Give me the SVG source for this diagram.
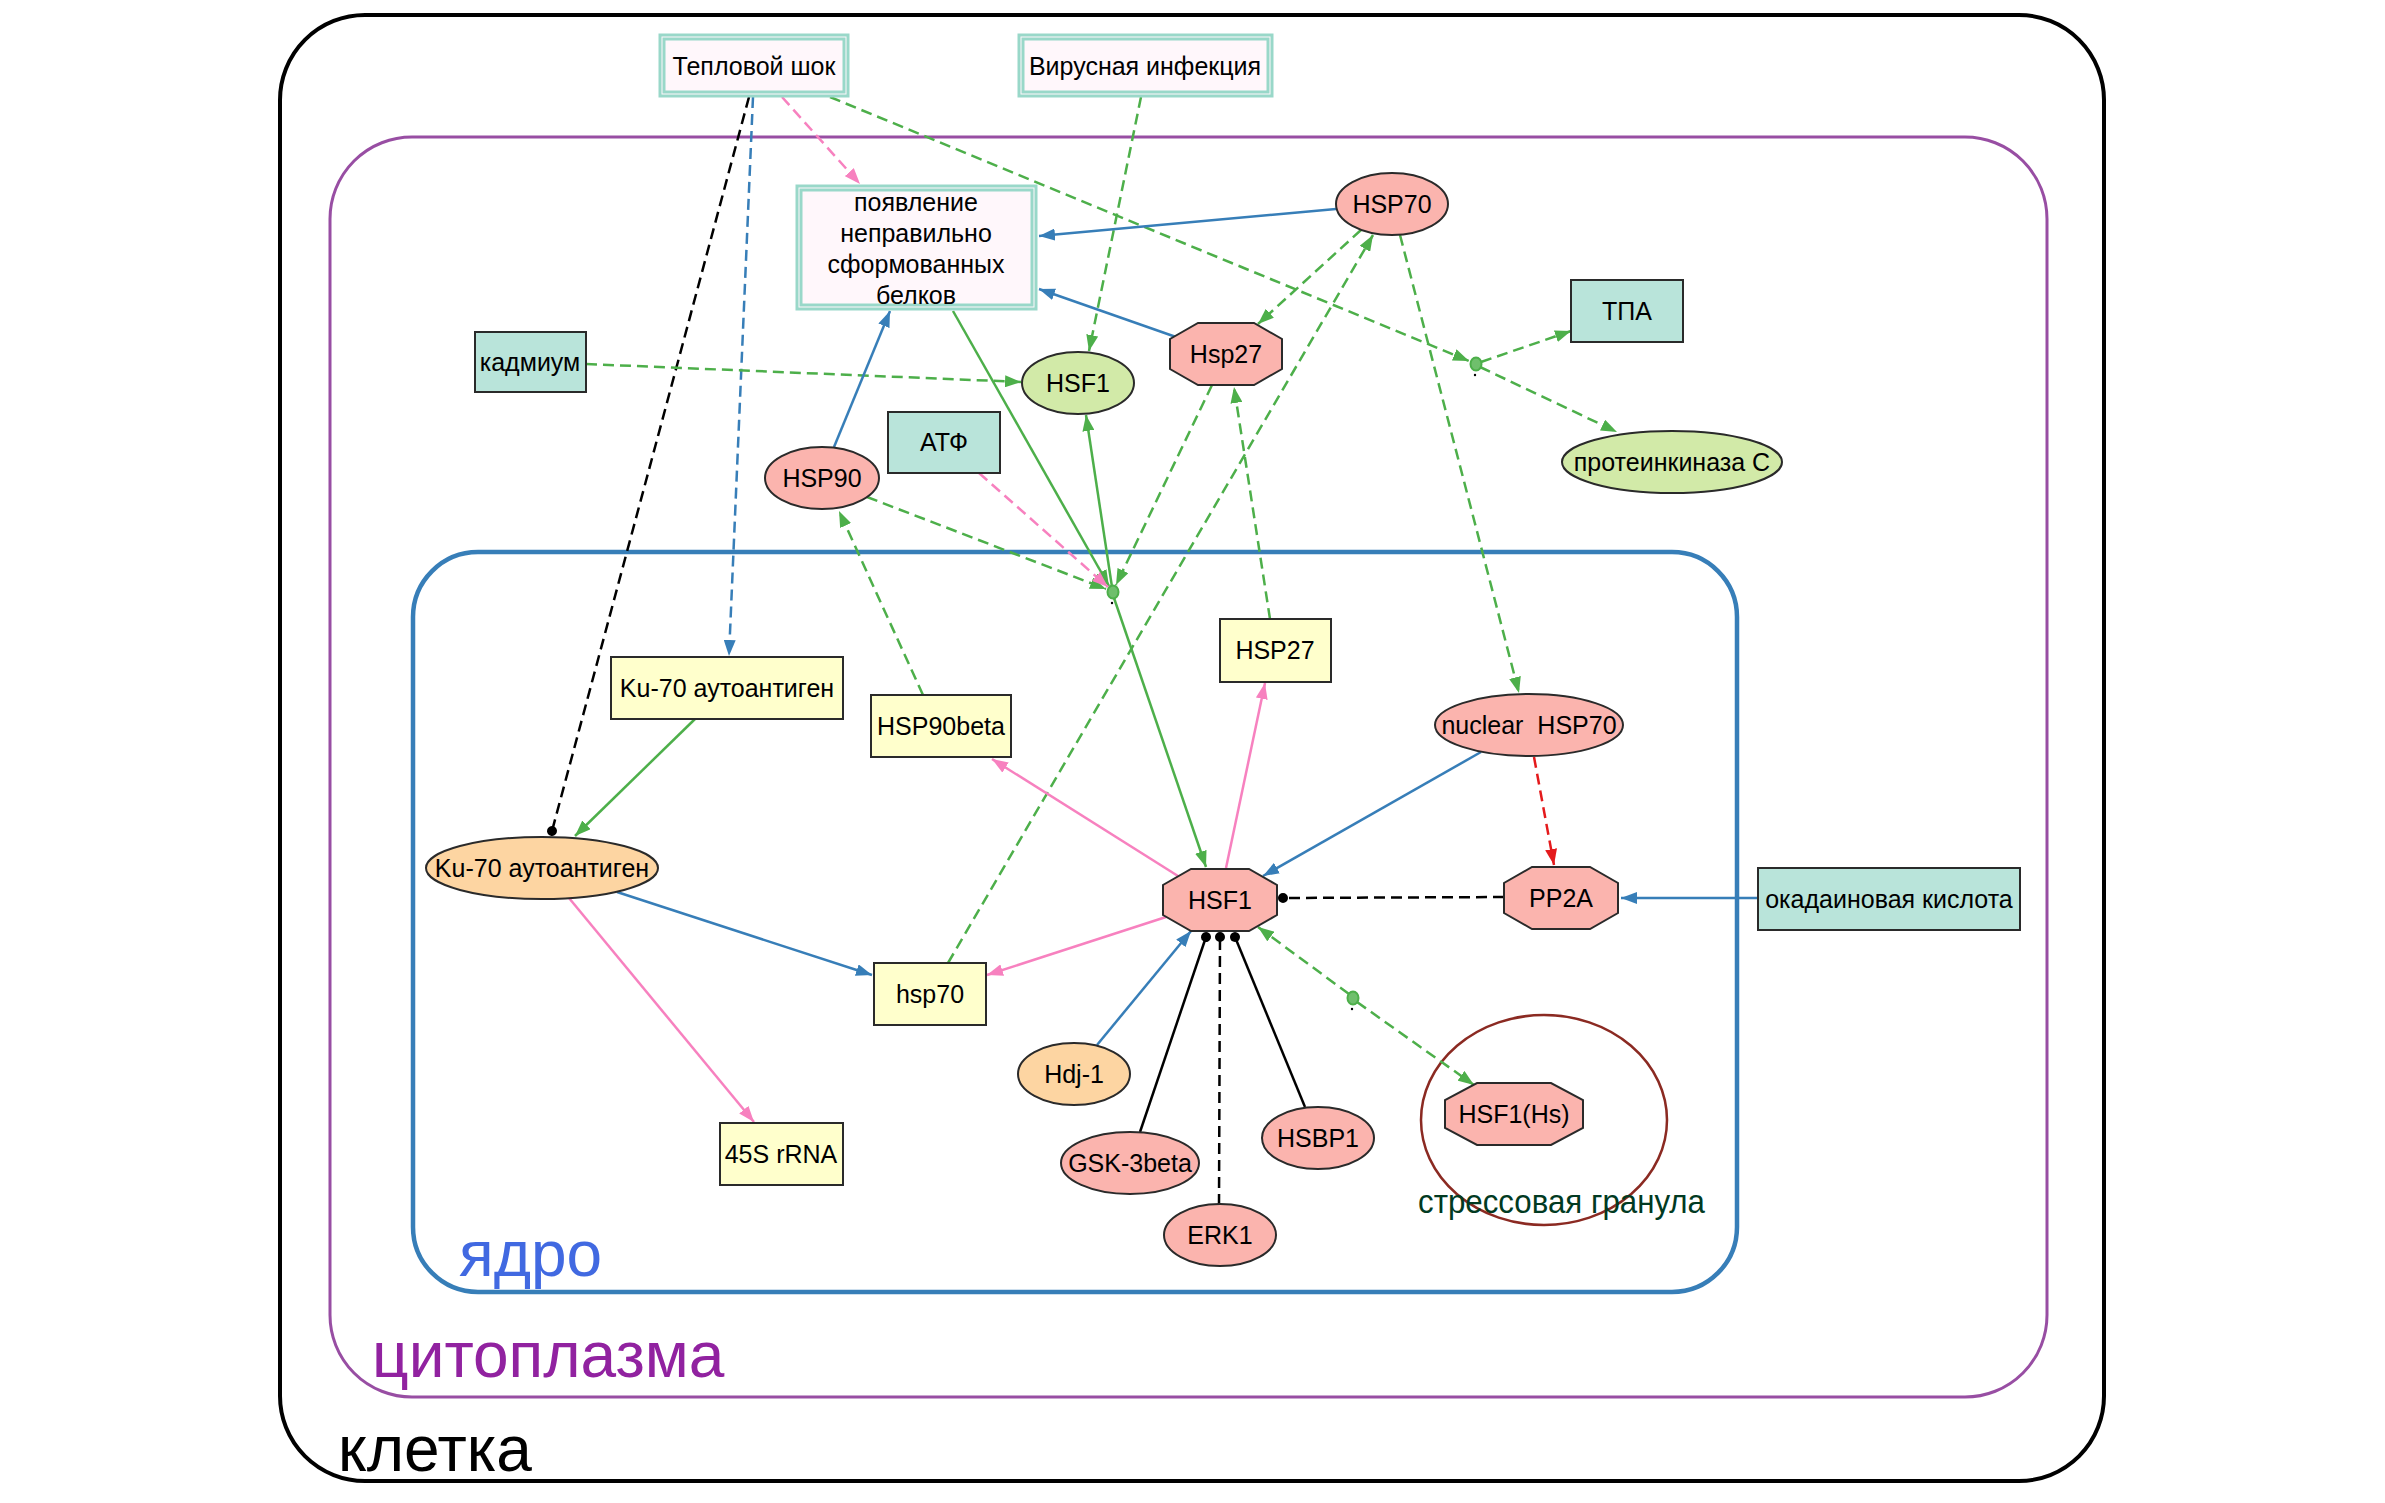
<svg xmlns="http://www.w3.org/2000/svg" width="2385" height="1503" viewBox="0 0 2385 1503">
<style>
.t{font-family:"Liberation Sans",Arial,sans-serif;font-size:25px;text-anchor:middle;fill:#000}
.big{font-family:"Liberation Sans",Arial,sans-serif;font-size:64px}
.nd{stroke:#2a2a2a;stroke-width:2}
.teal{fill:#b9e4da}
.yel{fill:#ffffcc}
.pink{fill:#fbb4ae}
.orange{fill:#fdd5a2}
.green{fill:#d2eaa8}
.dbl{fill:#fff7fb;stroke:#99d8c9;stroke-width:3}
.dbl2{fill:none;stroke:#99d8c9;stroke-width:3}
.e{fill:none;stroke-width:2.5}
.d{stroke-dasharray:11,6}
.g{stroke:#4daf4a}
.b{stroke:#377eb8}
.p{stroke:#f781bf}
.r{stroke:#e41a1c}
.k{stroke:#000}
.jn{fill:#6fbf6c;stroke:#4daf4a;stroke-width:2}
</style>
<defs>
<marker id="ag" markerUnits="userSpaceOnUse" markerWidth="17" markerHeight="12" refX="16" refY="6" orient="auto"><path d="M0,0 L16,6 L0,12 z" fill="#4daf4a"/></marker>
<marker id="ab" markerUnits="userSpaceOnUse" markerWidth="17" markerHeight="12" refX="16" refY="6" orient="auto"><path d="M0,0 L16,6 L0,12 z" fill="#377eb8"/></marker>
<marker id="ap" markerUnits="userSpaceOnUse" markerWidth="17" markerHeight="12" refX="16" refY="6" orient="auto"><path d="M0,0 L16,6 L0,12 z" fill="#f781bf"/></marker>
<marker id="ar" markerUnits="userSpaceOnUse" markerWidth="17" markerHeight="12" refX="16" refY="6" orient="auto"><path d="M0,0 L16,6 L0,12 z" fill="#e41a1c"/></marker>
<marker id="dk" markerUnits="userSpaceOnUse" markerWidth="12" markerHeight="12" refX="6" refY="6" orient="auto"><circle cx="6" cy="6" r="5" fill="#000"/></marker>
</defs>
<rect width="2385" height="1503" fill="#fff"/>

<g id="cell">
<rect x="280" y="15" width="1824" height="1466" rx="85" ry="85" fill="none" stroke="#000" stroke-width="4"/>
<text class="big" x="338" y="1471" fill="#000">клетка</text>
</g>
<g id="cytoplasm">
<rect x="330" y="137" width="1717" height="1260" rx="82" ry="82" fill="none" stroke="#984ea3" stroke-width="3"/>
<text class="big" x="372" y="1377" fill="#9122a0">цитоплазма</text>
</g>
<g id="nucleus">
<rect x="413" y="552" width="1324" height="740" rx="65" ry="65" fill="none" stroke="#377eb8" stroke-width="4.5"/>
<text class="big" x="459" y="1276" fill="#4169e1">ядро</text>
</g>
<g id="stress-granule">
<ellipse cx="1544" cy="1120" rx="123" ry="105" fill="none" stroke="#8b2a22" stroke-width="2.5"/>
<text x="1418" y="1213" font-family="Liberation Sans, Arial, sans-serif" font-size="34" fill="#013a22" textLength="287" lengthAdjust="spacingAndGlyphs">стрессовая гранула</text>
</g>

<g id="connectors">
<path class="e d k" d="M749,97 L552,831" marker-end="url(#dk)"/>
<path class="e d b" d="M753,97 L729,656" marker-end="url(#ab)"/>
<path class="e d p" d="M782,97 L860,184" marker-end="url(#ap)"/>
<path class="e d g" d="M830,97 L1469,361" marker-end="url(#ag)"/>
<path class="e d g" d="M1481,362 L1571,331" marker-end="url(#ag)"/>
<path class="e d g" d="M1480,367 L1617,432" marker-end="url(#ag)"/>
<path class="e d g" d="M1141,97 L1089,351" marker-end="url(#ag)"/>
<path class="e b" d="M1336,209 L1039,236" marker-end="url(#ab)"/>
<path class="e b" d="M1176,337 L1039,289" marker-end="url(#ab)"/>
<path class="e d g" d="M1361,230 L1258,324" marker-end="url(#ag)"/>
<path class="e d g" d="M948,963 L1373,235" marker-end="url(#ag)"/>
<path class="e d g" d="M1400,235 L1519,693" marker-end="url(#ag)"/>
<path class="e d g" d="M1212,385 L1116,585" marker-end="url(#ag)"/>
<path class="e d g" d="M1270,619 L1234,387" marker-end="url(#ag)"/>
<path class="e d g" d="M586,364 L1021,382" marker-end="url(#ag)"/>
<path class="e b" d="M834,447 L890,311" marker-end="url(#ab)"/>
<path class="e g" d="M953,311 L1109,586" marker-end="url(#ag)"/>
<path class="e d g" d="M867,497 L1106,589" marker-end="url(#ag)"/>
<path class="e d p" d="M979,473 L1108,587" marker-end="url(#ap)"/>
<path class="e g" d="M1112,587 L1086,415" marker-end="url(#ag)"/>
<path class="e g" d="M1114,598 L1206,867" marker-end="url(#ag)"/>
<path class="e d g" d="M923,695 L839,511" marker-end="url(#ag)"/>
<path class="e g" d="M695,719 L575,836" marker-end="url(#ag)"/>
<path class="e b" d="M617,892 L872,975" marker-end="url(#ab)"/>
<path class="e p" d="M569,898 L754,1122" marker-end="url(#ap)"/>
<path class="e p" d="M1178,876 L992,759" marker-end="url(#ap)"/>
<path class="e p" d="M1166,917 L987,975" marker-end="url(#ap)"/>
<path class="e p" d="M1226,868 L1265,683" marker-end="url(#ap)"/>
<path class="e b" d="M1481,752 L1263,876" marker-end="url(#ab)"/>
<path class="e d r" d="M1534,757 L1554,865" marker-end="url(#ar)"/>
<path class="e d k" d="M1504,897 L1283,898" marker-end="url(#dk)"/>
<path class="e b" d="M1757,898 L1621,898" marker-end="url(#ab)"/>
<path class="e b" d="M1097,1045 L1191,931" marker-end="url(#ab)"/>
<path class="e k" d="M1140,1132 L1206,937" marker-end="url(#dk)"/>
<path class="e d k" d="M1219,1205 L1220,937" marker-end="url(#dk)"/>
<path class="e k" d="M1305,1107 L1235,937" marker-end="url(#dk)"/>
<path class="e d g" d="M1349,994 L1258,927" marker-end="url(#ag)"/>
<path class="e d g" d="M1357,1002 L1474,1085" marker-end="url(#ag)"/>
</g>

<g id="junction1"><ellipse class="jn" cx="1113" cy="592" rx="5.5" ry="6.5"/><circle cx="1112" cy="603" r="1.2" fill="#000"/></g>
<g id="junction2"><ellipse class="jn" cx="1476" cy="364" rx="5.5" ry="6.5"/><circle cx="1475" cy="375" r="1.2" fill="#000"/></g>
<g id="junction3"><ellipse class="jn" cx="1353" cy="998" rx="5.5" ry="6.5"/><circle cx="1352" cy="1009" r="1.2" fill="#000"/></g>

<g id="heat-shock">
<rect class="dbl" x="660" y="35" width="188" height="61"/>
<rect class="dbl2" x="664" y="39" width="180" height="53"/>
<text class="t" x="754" y="75">Тепловой шок</text>
</g>
<g id="viral-infection">
<rect class="dbl" x="1019" y="35" width="253" height="61"/>
<rect class="dbl2" x="1023" y="39" width="245" height="53"/>
<text class="t" x="1145" y="75">Вирусная инфекция</text>
</g>
<g id="misfolded">
<rect class="dbl" x="797" y="186" width="239" height="123"/>
<rect class="dbl2" x="801" y="190" width="231" height="115"/>
<text class="t" x="916" y="211">появление</text>
<text class="t" x="916" y="242">неправильно</text>
<text class="t" x="916" y="273">сформованных</text>
<text class="t" x="916" y="304">белков</text>
</g>
<g id="HSP70"><ellipse class="nd pink" cx="1392" cy="204" rx="56" ry="31"/><text class="t" x="1392" y="213">HSP70</text></g>
<g id="Hsp27"><polygon class="nd pink" points="1198,323 1254,323 1282,339 1282,369 1254,385 1198,385 1170,369 1170,339"/><text class="t" x="1226" y="363">Hsp27</text></g>
<g id="HSF1-green"><ellipse class="nd green" cx="1078" cy="383" rx="56" ry="31"/><text class="t" x="1078" y="392">HSF1</text></g>
<g id="cadmium"><rect class="nd teal" x="475" y="332" width="111" height="60"/><text class="t" x="530" y="371">кадмиум</text></g>
<g id="TPA"><rect class="nd teal" x="1571" y="280" width="112" height="62"/><text class="t" x="1627" y="320">ТПА</text></g>
<g id="PKC"><ellipse class="nd green" cx="1672" cy="462" rx="110" ry="31"/><text class="t" x="1672" y="471">протеинкиназа С</text></g>
<g id="ATP"><rect class="nd teal" x="888" y="412" width="112" height="61"/><text class="t" x="944" y="451">АТФ</text></g>
<g id="HSP90"><ellipse class="nd pink" cx="822" cy="478" rx="57" ry="31"/><text class="t" x="822" y="487">HSP90</text></g>
<g id="Ku70-gene"><rect class="nd yel" x="611" y="657" width="232" height="62"/><text class="t" x="727" y="697">Ku-70 аутоантиген</text></g>
<g id="HSP90beta"><rect class="nd yel" x="871" y="695" width="140" height="62"/><text class="t" x="941" y="735">HSP90beta</text></g>
<g id="HSP27-gene"><rect class="nd yel" x="1220" y="619" width="111" height="63"/><text class="t" x="1275" y="659">HSP27</text></g>
<g id="nuclear-HSP70"><ellipse class="nd pink" cx="1529" cy="725" rx="94" ry="31"/><text class="t" x="1529" y="734" style="white-space:pre">nuclear  HSP70</text></g>
<g id="Ku70-protein"><ellipse class="nd orange" cx="542" cy="868" rx="116" ry="31"/><text class="t" x="542" y="877">Ku-70 аутоантиген</text></g>
<g id="HSF1"><polygon class="nd pink" points="1191,869 1249,869 1277,885 1277,915 1249,931 1191,931 1163,915 1163,885"/><text class="t" x="1220" y="909">HSF1</text></g>
<g id="PP2A"><polygon class="nd pink" points="1532,867 1590,867 1618,883 1618,913 1590,929 1532,929 1504,913 1504,883"/><text class="t" x="1561" y="907">PP2A</text></g>
<g id="okadaic-acid"><rect class="nd teal" x="1758" y="868" width="262" height="62"/><text class="t" x="1889" y="908">окадаиновая кислота</text></g>
<g id="hsp70-gene"><rect class="nd yel" x="874" y="963" width="112" height="62"/><text class="t" x="930" y="1003">hsp70</text></g>
<g id="Hdj-1"><ellipse class="nd orange" cx="1074" cy="1074" rx="56" ry="31"/><text class="t" x="1074" y="1083">Hdj-1</text></g>
<g id="rRNA45S"><rect class="nd yel" x="720" y="1123" width="123" height="62"/><text class="t" x="781" y="1163">45S rRNA</text></g>
<g id="GSK-3beta"><ellipse class="nd pink" cx="1130" cy="1163" rx="69" ry="31"/><text class="t" x="1130" y="1172">GSK-3beta</text></g>
<g id="HSBP1"><ellipse class="nd pink" cx="1318" cy="1138" rx="56" ry="31"/><text class="t" x="1318" y="1147">HSBP1</text></g>
<g id="ERK1"><ellipse class="nd pink" cx="1220" cy="1235" rx="56" ry="31"/><text class="t" x="1220" y="1244">ERK1</text></g>
<g id="HSF1-Hs"><polygon class="nd pink" points="1477,1083 1551,1083 1583,1100 1583,1128 1551,1145 1477,1145 1445,1128 1445,1100"/><text class="t" x="1514" y="1123">HSF1(Hs)</text></g>
</svg>
